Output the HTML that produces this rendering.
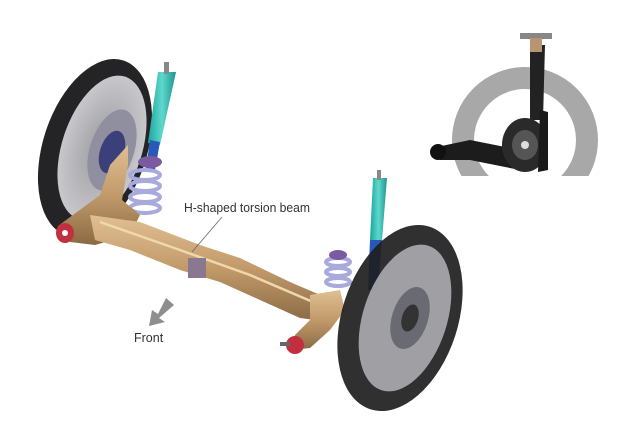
<!DOCTYPE html>
<html><head><style>
html,body{margin:0;padding:0;background:#fff;}
svg{display:block;}
text{font-family:"Liberation Sans",sans-serif;fill:#333;}
</style></head><body>
<svg width="640" height="426" viewBox="0 0 640 426" xmlns="http://www.w3.org/2000/svg">
<defs>
<linearGradient id="tan" x1="0" y1="0" x2="0" y2="1"><stop offset="0" stop-color="#e0bf92"/><stop offset="0.5" stop-color="#c29a6a"/><stop offset="1" stop-color="#8a6a45"/></linearGradient>
<linearGradient id="teal" x1="0" y1="0" x2="1" y2="0"><stop offset="0" stop-color="#1aa5a0"/><stop offset="0.5" stop-color="#5fd8cc"/><stop offset="1" stop-color="#1a9590"/></linearGradient>
<radialGradient id="rim" cx="0.5" cy="0.5" r="0.5"><stop offset="0" stop-color="#9a9a9e"/><stop offset="1" stop-color="#c8c8cc"/></radialGradient>
<clipPath id="insetclip"><rect x="400" y="0" width="240" height="176"/></clipPath>
</defs>

<g clip-path="url(#insetclip)">
<circle cx="525" cy="140" r="62" fill="none" stroke="#a8a8a8" stroke-width="22"/>
<polygon points="530,45 545,45 543,120 530,120" fill="#222"/>
<rect x="520" y="33" width="32" height="6" fill="#888"/>
<rect x="530" y="38" width="12" height="14" fill="#b89570"/>
<polygon points="432,148 470,140 520,150 540,165 520,170 470,160 440,160" fill="#1c1c1c"/>
<ellipse cx="438" cy="152" rx="8" ry="8" fill="#111"/>
<ellipse cx="525" cy="145" rx="23" ry="27" fill="#2a2a2a"/>
<ellipse cx="525" cy="145" rx="13" ry="15" fill="#555"/>
<circle cx="525" cy="145" r="4" fill="#ddd"/>
<polygon points="540,110 548,112 548,170 538,172" fill="#1a1a1a"/>
</g>

<ellipse cx="95" cy="148" rx="52" ry="92" transform="rotate(18 95 148)" fill="#242427"/>
<ellipse cx="102" cy="148" rx="40" ry="75" transform="rotate(18 102 148)" fill="url(#rim)"/>
<ellipse cx="112" cy="150" rx="22" ry="42" transform="rotate(18 112 150)" fill="#8f8fa0"/>
<ellipse cx="112" cy="152" rx="12" ry="22" transform="rotate(18 112 152)" fill="#3b3f7a"/>

<polygon points="158,72 176,72 160,145 148,143" fill="url(#teal)"/>
<rect x="164" y="62" width="5" height="12" fill="#888"/>
<polygon points="150,140 160,142 155,170 146,168" fill="#2a58b8"/>
<g fill="none" stroke="#a8aadc" stroke-width="4">
<ellipse cx="145" cy="175" rx="15" ry="5"/><ellipse cx="145" cy="186" rx="15" ry="5"/><ellipse cx="145" cy="197" rx="15" ry="5"/><ellipse cx="145" cy="208" rx="15" ry="5"/>
</g>
<ellipse cx="150" cy="162" rx="12" ry="6" fill="#7a5aa0"/>

<!-- left trailing arm -->
<path d="M58,226 L100,195 L110,165 L128,145 L128,165 L122,200 L140,215 L130,235 L95,245 L70,242 Z" fill="url(#tan)"/>
<!-- main beam -->
<path d="M90,215 L140,222 L200,245 L240,258 L290,282 L325,297 L330,322 L300,318 L260,300 L220,282 L180,270 L130,250 L95,240 Z" fill="url(#tan)"/>
<path d="M100,222 L180,250 L250,275 L320,305" stroke="#f0d8ac" stroke-width="2.5" fill="none"/>
<!-- right arm -->
<path d="M310,295 L340,290 L345,310 L330,330 L310,348 L292,350 L295,335 L310,320 Z" fill="url(#tan)"/>
<rect x="188" y="258" width="18" height="20" fill="#8a7890"/>
<ellipse cx="65" cy="233" rx="9" ry="10" fill="#c23040"/>
<circle cx="65" cy="233" r="3" fill="#fff"/>
<ellipse cx="295" cy="345" rx="9" ry="9" fill="#c23040"/>
<rect x="280" y="342" width="10" height="4" fill="#666"/>

<polygon points="373,178 387,178 382,240 370,240" fill="url(#teal)"/>
<rect x="377" y="170" width="4" height="10" fill="#888"/>
<polygon points="370,240 382,240 378,290 368,290" fill="#2a58b8"/>
<g fill="none" stroke="#a8aadc" stroke-width="4">
<ellipse cx="338" cy="262" rx="12" ry="4"/><ellipse cx="338" cy="272" rx="12" ry="4"/><ellipse cx="338" cy="282" rx="12" ry="4"/>
</g>
<ellipse cx="338" cy="255" rx="9" ry="5" fill="#7a5aa0"/>

<ellipse cx="400" cy="318" rx="58" ry="96" transform="rotate(18 400 318)" fill="#1e1e20" opacity="0.92"/>
<ellipse cx="405" cy="318" rx="42" ry="76" transform="rotate(18 405 318)" fill="#b4b4b8" opacity="0.85"/>
<ellipse cx="410" cy="318" rx="18" ry="32" transform="rotate(18 410 318)" fill="#6a6a72"/>
<ellipse cx="410" cy="318" rx="8" ry="14" transform="rotate(18 410 318)" fill="#333"/>

<text x="184" y="212" font-size="12.5" textLength="126" lengthAdjust="spacingAndGlyphs">H-shaped torsion beam</text>
<line x1="222" y1="217" x2="192" y2="252" stroke="#666" stroke-width="0.8"/>
<polygon points="174,305 166,298 158,314 152,310 149,326 165,322 159,318" fill="#8e8e8e"/>
<text x="134" y="342" font-size="12.5">Front</text>
</svg>
</body></html>
